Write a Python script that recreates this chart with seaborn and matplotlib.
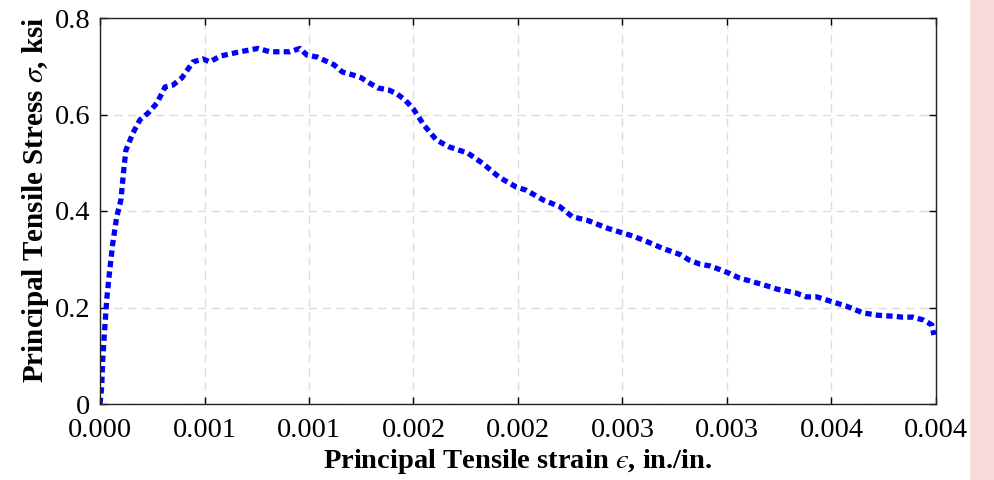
import numpy as np
import pandas as pd
import matplotlib
matplotlib.use("Agg")
import matplotlib.pyplot as plt
from matplotlib.patches import Rectangle
import seaborn as sns

# Principal tensile strain (in./in.) and stress (ksi)
strain = [0.0, 0.000008, 0.000013, 0.000019, 0.000032, 0.000045, 0.000061, 0.00008,
          0.0001, 0.000115, 0.000124, 0.000158, 0.000191, 0.00023, 0.000273, 0.000311,
          0.000349, 0.000392, 0.000445, 0.000493, 0.000526, 0.000574, 0.00067, 0.000756,
          0.000813, 0.000909, 0.000957, 0.00099, 0.00104, 0.00109, 0.00112, 0.00116,
          0.00121, 0.00125, 0.00129, 0.00133, 0.00138, 0.00142, 0.00146, 0.0015,
          0.00155, 0.00161, 0.00167, 0.00176, 0.00183, 0.00191, 0.00199, 0.00204,
          0.00212, 0.0022, 0.00226, 0.00233, 0.00243, 0.00255, 0.00262, 0.00269,
          0.00278, 0.00282, 0.00287, 0.00292, 0.00297, 0.00301, 0.00306, 0.00311,
          0.00319, 0.00324, 0.00333, 0.00338, 0.00343, 0.00351, 0.00357, 0.00365,
          0.00372, 0.00379, 0.00384, 0.00389, 0.00394, 0.00398, 0.00399]
stress = [0.0, 0.035, 0.091, 0.133, 0.216, 0.271, 0.333, 0.388,
          0.423, 0.491, 0.526, 0.562, 0.589, 0.603, 0.624, 0.657,
          0.661, 0.676, 0.709, 0.715, 0.709, 0.721, 0.730, 0.737,
          0.730, 0.730, 0.737, 0.723, 0.719, 0.709, 0.703, 0.688,
          0.682, 0.676, 0.665, 0.655, 0.651, 0.643, 0.630, 0.611,
          0.578, 0.547, 0.533, 0.520, 0.499, 0.470, 0.450, 0.443,
          0.423, 0.409, 0.388, 0.381, 0.364, 0.348, 0.336, 0.323,
          0.309, 0.298, 0.290, 0.286, 0.278, 0.271, 0.261, 0.255,
          0.245, 0.238, 0.230, 0.222, 0.222, 0.211, 0.203, 0.189,
          0.184, 0.182, 0.180, 0.180, 0.174, 0.164, 0.143]

x_ticks = [0.0, 0.0005, 0.001, 0.0015, 0.002, 0.0025, 0.003, 0.0035, 0.004]
x_tick_labels = ["0.000", "0.001", "0.001", "0.002", "0.002", "0.003", "0.003", "0.004", "0.004"]
y_ticks = [0, 0.2, 0.4, 0.6, 0.8]
y_tick_labels = ["0", "0.2", "0.4", "0.6", "0.8"]

df = pd.DataFrame({"strain": strain, "stress": stress})

sns.set_theme(style="ticks")
plt.rcParams["font.family"] = ["Liberation Serif", "DejaVu Serif"]
plt.rcParams["mathtext.fontset"] = "stix"
plt.rcParams["text.color"] = "black"
plt.rcParams["axes.labelcolor"] = "black"

fig = plt.figure(figsize=(9.95, 4.80), dpi=100)
# pink strip at the right edge of the screenshot
fig.patches.append(Rectangle((970 / 995, 0), 25 / 995, 1, transform=fig.transFigure,
                             facecolor="#f9dada", edgecolor="none", zorder=0))
ax = fig.add_axes([100 / 995, 1 - 404 / 480, 836 / 995, 386 / 480])

sns.lineplot(data=df, x="strain", y="stress", ax=ax, sort=False, estimator=None,
             color="#0000ff", linewidth=3.8, linestyle=(0, (1.2, 0.8)))

ax.set_xlim(0, 0.004)
ax.set_ylim(0, 0.8)
ax.set_xticks(x_ticks)
ax.set_xticklabels(x_tick_labels)
ax.set_yticks(y_ticks)
ax.set_yticklabels(y_tick_labels)
ax.grid(True, color="#dcdcdc", linestyle=(0, (6, 4)), linewidth=1.0)
ax.tick_params(direction="in", length=5, width=1, top=True, right=True,
               labelsize=20.5, colors="black")
ax.tick_params(axis="x", pad=10)
ax.tick_params(axis="y", pad=7)
for sp in ax.spines.values():
    sp.set_visible(True)
    sp.set_color("#222222")
    sp.set_linewidth(1.0)

ax.set_xlabel("Principal Tensile strain $ϵ$, in./in.", fontsize=20.5,
              fontweight="bold", labelpad=3)
ax.set_ylabel(r"Principal Tensile Stress $\sigma$, ksi", fontsize=21,
              fontweight="bold")
ax.yaxis.set_label_coords(-0.059, 0.528)

fig.savefig("out.png", dpi=100)
